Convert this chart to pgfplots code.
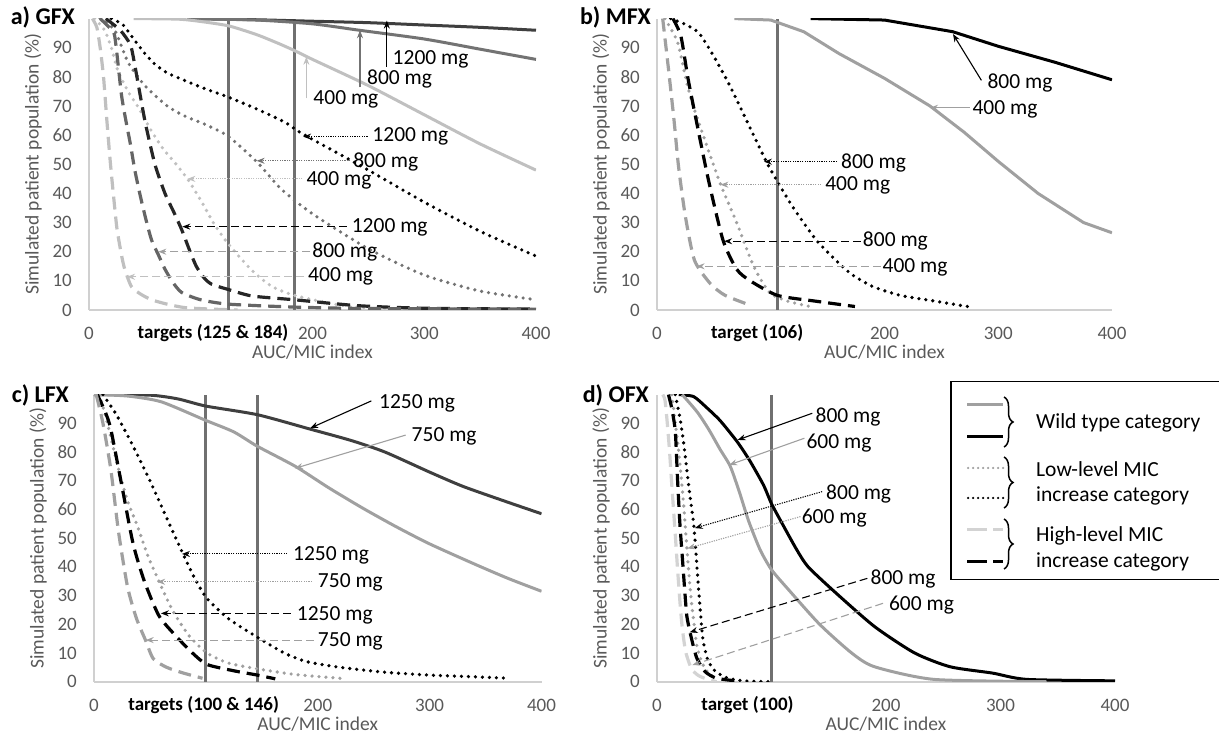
\documentclass[border=0pt]{standalone}
\usepackage{fontspec}
\setmainfont{Carlito}
\usepackage{pgfplots}
\pgfplotsset{compat=1.18}
\usetikzlibrary{arrows.meta,decorations.pathreplacing}

\definecolor{axgray}{HTML}{D0D0D0}
\definecolor{tickgray}{HTML}{595959}
\definecolor{vgray}{HTML}{707070}
\definecolor{dk}{HTML}{3F3F3F}
\definecolor{md}{HTML}{737373}
\definecolor{mg}{HTML}{A0A0A0}
\definecolor{lt}{HTML}{C0C0C0}
\definecolor{xl}{HTML}{D3D3D3}

\tikzset{
  sol/.style={line width=3pt},
  dot/.style={line width=3.6pt, line cap=round, dash pattern=on 0pt off 7pt},
  dsh/.style={line width=3.2pt, dash pattern=on 13pt off 7pt},
  ann/.style={font=\fontsize{21.5}{21.5}\selectfont, anchor=west, inner sep=0pt},
  arr/.style={line width=1.1pt, -{Stealth[length=8pt,width=6pt]}},
  arrd/.style={arr, dash pattern=on 1.2pt off 1.2pt},
  arrs/.style={arr, dash pattern=on 8pt off 4pt},
  tgt/.style={font=\fontsize{19}{19}\selectfont\bfseries, anchor=base, yshift=-29pt, inner sep=0pt},
  vline/.style={vgray, line width=3pt},
  ttl/.style={font=\fontsize{24}{24}\selectfont\bfseries, anchor=east, inner sep=0pt},
  brc/.style={decorate, decoration={brace, amplitude=9pt}, line width=1.5pt},
}

\pgfplotsset{
  panel/.style={
    scale only axis,
    xmin=0, xmax=400, ymin=0, ymax=100,
    axis x line=bottom, axis y line=left,
    axis line style={draw=axgray, line width=2pt, -},
    xtick={0,200,300,400}, ytick={0,10,...,90},
    major tick length=0pt,
    no markers,
    clip mode=individual,
    tick label style={font=\fontsize{19}{19}\selectfont, text=tickgray},
    /pgf/number format/assume math mode=true,
    yticklabel style={anchor=east, inner sep=0pt, xshift=-17pt},
    xticklabel style={anchor=north, inner sep=0pt, yshift=-17pt},
    xlabel={AUC/MIC index}, ylabel={Simulated patient population (\%)},
    every axis x label/.style={at={(axis description cs:0.5,0)}, anchor=center, yshift=-42pt,
      font=\fontsize{19.5}{19.5}\selectfont, text=tickgray},
    every axis y label/.style={at={(axis description cs:0,0.5)}, xshift=-56pt, rotate=90, anchor=center,
      font=\fontsize{19.5}{19.5}\selectfont, text=tickgray},
    every axis plot/.append style={smooth, tension=0.4},
  }
}

\begin{document}
\begin{tikzpicture}
\useasboundingbox (0,0) rectangle (1219pt,737pt);

% ---------------- a) GFX
\begin{axis}[panel, at={(89pt,427pt)}, anchor=south west, width=447pt, height=291.4pt]
\draw[vline] (axis cs:125,0) -- (axis cs:125,100);
\draw[vline] (axis cs:184,0) -- (axis cs:184,100);
% wild type
\addplot[dk, sol] coordinates {(88,100) (150,99.6) (200,99.1) (250,98.6) (300,97.8) (350,97) (400,96)};
\addplot[md, sol] coordinates {(88,100) (150,99.5) (200,98.2) (242,96) (300,93) (350,89.5) (400,86)};
\addplot[lt, sol] coordinates {(40,100) (80,99.8) (100,99) (125,97.5) (150,94.5) (170,91.4) (184,89) (200,86) (250,77) (300,67) (350,57) (400,48)};
% low-level
\addplot[black, dot] coordinates {(20,100) (30,98) (40,93) (50,88) (60,84) (72,81) (100,76.5) (125,73) (150,69) (175,64.5) (191,60.5) (250,48) (300,37) (350,27) (400,18.5)};
\addplot[md, dot] coordinates {(10,100) (23,96) (35,85) (50,77) (70,70) (86,66.5) (105,63.5) (125,59.5) (151,50.5) (172,41.5) (200,33) (250,21) (300,12) (350,6.5) (400,3.5)};
\addplot[lt, dot] coordinates {(5,100) (14,96) (20,90) (26,82) (35,75) (45,69) (55,62) (66,55.5) (78,50) (89,44.5) (101,37) (112,29.5) (125,22.5) (146,13.5) (164,8) (184,5) (220,2) (260,0.5) (400,0.2)};
% high-level
\addplot[black!85, dsh] coordinates {(15,100) (28,96) (37,91) (41,84) (50,65) (59,50) (68,40) (76,33.5) (83,27.5) (90,20.5) (96,15) (103,11) (110,8.8) (125,7) (146,4.8) (184,3.5) (240,1.5) (300,0.6) (400,0.3)};
\addplot[dk!80, dsh] coordinates {(10,100) (18,97) (23,94) (29,74) (33,65) (37,57) (41,48) (46,39) (51,31) (56,24) (62,19) (68,14) (75,9.5) (83,6) (100,3.5) (125,2) (184,1) (250,0.5) (400,0.3)};
\addplot[lt, dsh] coordinates {(3,100) (7,97) (10,90) (13,80) (16,65) (19,51) (22,39) (25,28) (29,19) (32,14) (38,8) (46,5.5) (56,3.5) (70,2) (86,0.8) (110,0.3) (133,0)};
% annotations
\draw[arr, black] (axis cs:266.5,83.5) -- (axis cs:266.5,99.3);
\node[ann] at (axis cs:271.6,86) {1200 mg};
\draw[arr, md] (axis cs:242.5,76.4) -- (axis cs:242.5,96);
\node[ann] at (axis cs:248.7,79.3) {800 mg};
\draw[arr, lt] (axis cs:194.5,72.6) -- (axis cs:194.5,86.9);
\node[ann] at (axis cs:200.7,72.3) {400 mg};
\draw[arrd, black] (axis cs:249.3,59.5) -- (axis cs:191.6,59.5);
\node[ann] at (axis cs:253.5,59.5) {1200 mg};
\draw[arrd, md] (axis cs:233.9,51.2) -- (axis cs:150,51.2);
\node[ann] at (axis cs:236.3,50.9) {800 mg};
\draw[arrd, lt] (axis cs:191,45) -- (axis cs:88,45);
\node[ann] at (axis cs:194.5,44.6) {400 mg};
\draw[arrs, black] (axis cs:230.5,28.6) -- (axis cs:83.5,28.6);
\node[ann] at (axis cs:235,28.2) {1200 mg};
\draw[arrs, mg] (axis cs:198,20) -- (axis cs:62,20);
\node[ann] at (axis cs:199.7,19.8) {800 mg};
\draw[arrs, lt] (axis cs:192.8,11.4) -- (axis cs:34,11.4);
\node[ann] at (axis cs:196,11.4) {400 mg};
\node[tgt] at (axis cs:111,0) {targets (125 \& 184)};
\end{axis}
\node[ttl] at (75pt,720pt) {a) GFX};

% ---------------- b) MFX
\begin{axis}[panel, at={(657pt,427pt)}, anchor=south west, width=455pt, height=291.4pt]
\draw[vline] (axis cs:106,0) -- (axis cs:106,100);
\addplot[black, sol, sharp plot] coordinates {(135,100) (200,99.5) (260,95.5) (300,90.5) (350,85) (400,79)};
\addplot[mg, sol, sharp plot] coordinates {(68,100) (100,99.5) (129,95.5) (160,88) (200,79.5) (240,70) (270,61) (300,51) (335,40) (375,30) (400,26.5)};
\addplot[black, dot] coordinates {(12,100) (25,98) (37,95) (50,87) (64,77) (80,64) (96,51) (106,44) (120,35) (140,24) (160,16) (172,12) (190,8) (214,5) (245,3) (276,1)};
\addplot[mg, dot] coordinates {(7,100) (18,92) (25,80) (31,71) (45,55) (56,43) (70,30) (85,15) (99,6) (115,3) (137,1)};
\addplot[black, dsh] coordinates {(14,100) (21,94) (27,80) (33,68) (45,45) (58,24) (70,14) (82,10) (106,5) (140,3) (174,1.2)};
\addplot[mg, dsh] coordinates {(5,100) (10,83) (15,65) (19,49) (25,32) (33,17) (47,9) (60,5) (83,1.5)};
\draw[arr, black] (axis cs:285.2,78.8) -- (axis cs:260.2,94.7);
\node[ann] at (axis cs:290.4,78) {800 mg};
\draw[arr, mg] (axis cs:274.8,69.4) -- (axis cs:240,69.4);
\node[ann] at (axis cs:277.2,69) {400 mg};
\draw[arrd, black] (axis cs:158.3,50.9) -- (axis cs:94,50.9);
\node[ann] at (axis cs:161.7,50.6) {800 mg};
\draw[arrd, mg] (axis cs:144.3,43) -- (axis cs:55.7,43);
\node[ann] at (axis cs:147.8,42.6) {400 mg};
\draw[arrs, black] (axis cs:179,23.6) -- (axis cs:59,23.6);
\node[ann] at (axis cs:180.9,23.6) {800 mg};
\draw[arrs, mg] (axis cs:196.5,15) -- (axis cs:34.8,15);
\node[ann] at (axis cs:198.2,14.7) {400 mg};
\node[tgt] at (axis cs:88,0) {target (106)};
\end{axis}
\node[ttl] at (651pt,720pt) {b) MFX};

% ---------------- c) LFX
\begin{axis}[panel, at={(94pt,55.3pt)}, anchor=south west, width=447.5pt, height=287.1pt]
\draw[vline] (axis cs:100,0) -- (axis cs:100,100);
\draw[vline] (axis cs:146,0) -- (axis cs:146,100);
\addplot[dk, sol] coordinates {(0,100) (50,99.8) (75,98.5) (100,96) (146,93) (193,88) (230,84) (260,80) (300,73) (330,68) (370,62.5) (400,58.5)};
\addplot[mg, sol] coordinates {(0,100) (30,99.5) (60,97.5) (100,91) (125,87) (146,82) (180,75) (210,67.5) (240,60.5) (270,54) (300,48) (340,41) (370,36) (400,31.5)};
\addplot[black, dot] coordinates {(8,100) (20,93) (35,82) (50,70) (65,57) (79,45) (90,36) (101,29) (120,22) (146,15.5) (170,10) (190,7) (220,5) (260,3.3) (300,2.3) (340,1.7) (371,1.2)};
\addplot[mg, dot] coordinates {(5,100) (12,90) (22,74) (30,63) (39,54) (48,44) (58,35) (70,25) (85,16) (101,10) (120,6.5) (146,4.5) (180,2.5) (226,1)};
\addplot[black, dsh] coordinates {(3,100) (10,94) (15,88) (25,68) (35,48) (45,35) (58,23) (73,16) (88,10) (101,6) (125,3.8) (146,2.3) (162,1)};
\addplot[mg, dsh] coordinates {(2,100) (8,90) (15,74) (22,52) (30,33) (38,22) (46,14.5) (53,8) (65,5) (80,3) (97,1.2)};
\draw[arr, black] (axis cs:247.9,97.8) -- (axis cs:193.2,88.3);
\node[ann] at (axis cs:254.7,97) {1250 mg};
\draw[arr, mg] (axis cs:278.6,85.9) -- (axis cs:179.5,74.3);
\node[ann] at (axis cs:283.8,85.4) {750 mg};
\draw[arrd, black] (axis cs:172.7,44.5) -- (axis cs:78.6,44.5);
\node[ann] at (axis cs:177.8,44.1) {1250 mg};
\draw[arrd, mg] (axis cs:194.9,34.8) -- (axis cs:56.4,34.8);
\node[ann] at (axis cs:200,34.5) {750 mg};
\draw[arrs, black] (axis cs:176,23.8) -- (axis cs:59.8,23.8);
\node[ann] at (axis cs:181.2,23.2) {1250 mg};
\draw[arrs, mg] (axis cs:196.6,14.5) -- (axis cs:46.2,14.5);
\node[ann] at (axis cs:200,13.9) {750 mg};
\node[tgt] at (axis cs:98,0) {targets (100 \& 146)};
\end{axis}
\node[ttl] at (69pt,342pt) {c) LFX};

% ---------------- d) OFX
\begin{axis}[panel, at={(657pt,55.3pt)}, anchor=south west, width=458pt, height=287.1pt]
\draw[vline] (axis cs:100,0) -- (axis cs:100,100);
\addplot[black, sol] coordinates {(19,100) (32,99.3) (43,95.6) (55,91) (70,83.6) (81,77) (93,68.5) (100,62) (110,54.6) (122,46) (132,40) (156,31) (190,19.2) (225,10) (256,5.2) (293,3) (323,0.8) (400,0.3)};
\addplot[mg, sol] coordinates {(22,100) (35,94) (45,88) (55,81) (64,75) (72,66) (80,56) (90,46) (100,39) (115,32) (142,20) (170,10) (190,5.2) (242,0.8) (340,0)};
\addplot[black, dot] coordinates {(16,100) (20,92) (23,84) (26,74) (29,64) (32,55) (34,45) (36,34) (38,24) (40,15) (44,8) (50,4) (60,1.5) (75,0.3) (98,0)};
\addplot[mg, dot] coordinates {(13,100) (16,90) (19,80) (23,63) (26,47) (28,37) (30,28) (33,18) (35,12) (40,6) (45,3) (52,0.8)};
\addplot[black, dsh] coordinates {(10,100) (13,95) (16,87) (18,70) (20,55) (22,44) (24,33) (26,23) (29,17) (32,12) (35,8) (42,3.5) (52,1.2) (71,0.2)};
\addplot[xl, dsh] coordinates {(5,100) (7,98) (9,90) (11,80) (13,68) (16,51) (18,39) (20,28) (22,19) (25,10.5) (30,4.6) (36,2.2) (43,1) (52,0)};
\draw[arr, black] (axis cs:135.6,93.5) -- (axis cs:70.4,84.2);
\node[ann] at (axis cs:138.4,92.3) {800 mg};
\draw[arr, mg] (axis cs:128.7,84.8) -- (axis cs:63,75.5);
\node[ann] at (axis cs:130.4,83) {600 mg};
\draw[arrd, black] (axis cs:144.2,66.2) -- (axis cs:33,53.5);
\node[ann] at (axis cs:147.6,65.4) {800 mg};
\draw[arrd, mg] (axis cs:125.3,57.5) -- (axis cs:26.5,46.4);
\node[ann] at (axis cs:126.3,56.9) {600 mg};
\draw[arrs, black] (axis cs:183.7,36) -- (axis cs:28.5,17.2);
\node[ann] at (axis cs:186.4,35.6) {800 mg};
\draw[arrs, mg] (axis cs:197.4,27.3) -- (axis cs:30.9,5.8);
\node[ann] at (axis cs:202.5,26.7) {600 mg};
\node[tgt] at (axis cs:79,0) {target (100)};
\end{axis}
\node[ttl] at (649pt,342pt) {d) OFX};

% ---------------- legend box
\draw[line width=1.5pt] (1240pt,355.3pt) -- (951pt,355.3pt) -- (951pt,157.7pt) -- (1240pt,157.7pt);
\draw[mg, sol] (967pt,332pt) -- (1003pt,332pt);
\draw[black, sol] (967pt,300.3pt) -- (1003pt,300.3pt);
\draw[brc] (1004pt,340pt) -- (1004pt,290pt);
\node[ann] at (1036pt,314pt) {Wild type category};
\draw[mg, line width=2.5pt, line cap=round, dash pattern=on 0pt off 5pt] (968pt,269pt) -- (1003pt,269pt);
\draw[black, line width=2.5pt, line cap=round, dash pattern=on 0pt off 5pt] (968pt,239pt) -- (1003pt,239pt);
\draw[brc] (1004pt,280pt) -- (1004pt,229pt);
\node[ann] at (1036pt,268pt) {Low-level MIC};
\node[ann] at (1036pt,241pt) {increase category};
\draw[xl, line width=3pt, dash pattern=on 20pt off 6pt] (967pt,207pt) -- (1003pt,207pt);
\draw[black, line width=3pt, dash pattern=on 20pt off 6pt] (967pt,175pt) -- (1003pt,175pt);
\draw[brc] (1004pt,218pt) -- (1004pt,168pt);
\node[ann] at (1036pt,201pt) {High-level MIC};
\node[ann] at (1036pt,175pt) {increase category};
\end{tikzpicture}
\end{document}
